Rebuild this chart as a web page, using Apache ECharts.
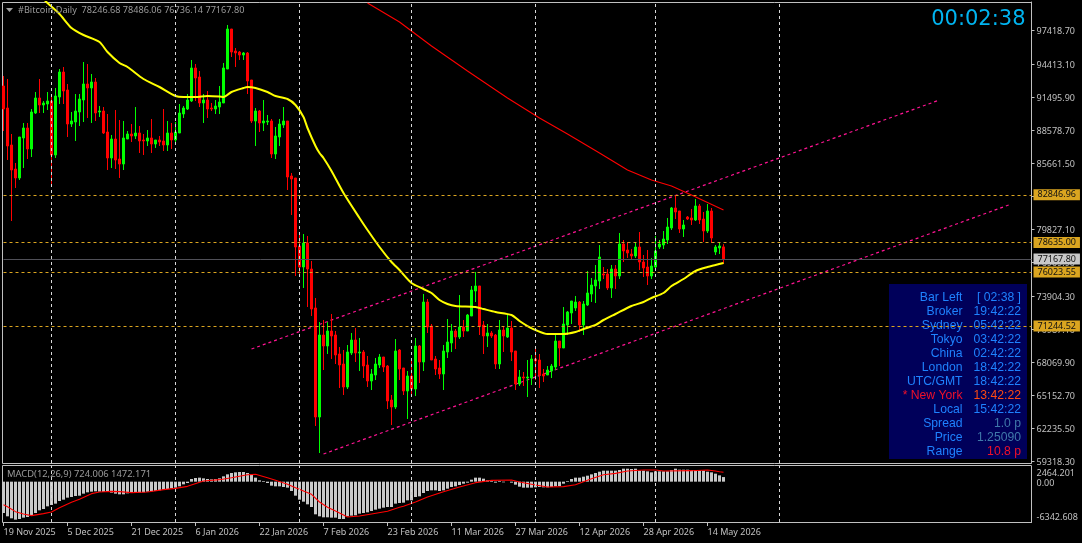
<!DOCTYPE html>
<html><head><meta charset="utf-8">
<style>html,body{margin:0;padding:0;background:#000;overflow:hidden}#c{width:1082px;height:543px}</style>
<script src="https://cdn.jsdelivr.net/npm/echarts@6/dist/echarts.min.js"></script>
</head><body><div id="c"></div>
<script>
const opens=[92469,90523,87253,85131,84336,87872,88756,86900,90082,91408,
90789,90877,91143,86369,91496,93706,92115,89109,89286,90170,
91231,92645,92292,92822,90170,90259,88402,86104,87783,86015,
85573,87783,88225,88049,88314,87695,87607,87872,87341,87695,
87607,87253,88314,87695,88314,89993,90435,91143,94060,93264,
90966,91231,90523,90435,90612,90966,93971,97507,95563,95474,
95209,95386,92999,89375,90259,89198,89286,89375,86457,87960,
89021,89375,84513,84336,78325,76468,78590,76291,72844,63208,
70457,69484,70810,70457,68777,67893,65860,68866,70015,68866,
68954,67805,66391,66921,67805,68512,67716,64711,64092,69131,
67540,65507,66833,65683,69484,68070,73374,71252,68336,67540,
67009,68954,69750,70810,70280,71164,70810,72137,74347,74789,
71341,70369,70634,70457,67893,70899,70280,71075,69043,66125,
66744,66656,66656,68336,68247,67009,66921,67274,67628,69926,
69308,71341,72402,72844,73374,71341,73109,74082,74789,75230,
75849,75849,74612,76291,75672,78501,77971,77617,77441,78236,
76910,76468,75672,76468,78236,78413,78855,79916,81684,81419,
79827,80888,80800,80623,81861,80711,79651,81419,77794,78147,78246.68];
const closes=[90435,87165,85043,84336,87960,88756,86900,90170,91408,90789,
90966,91143,86369,91585,93706,92026,89109,89375,90259,91319,
92645,92292,92822,90082,90259,88314,86104,87783,85927,85573,
87872,88225,88049,88314,87607,87607,87872,87341,87695,87518,
87253,88314,87695,88402,90082,90523,91231,94060,93176,90966,
91231,90435,90435,90701,91054,94060,97507,95474,95386,95209,
95386,92911,89375,90259,89198,89375,89375,86457,88049,89109,
89375,84424,84247,78236,76468,78590,76291,72755,63208,70457,
69484,70810,70369,68689,67805,65860,68954,70015,68866,68954,
67716,66391,67009,67893,68512,67628,64623,64092,69043,67451,
65507,66833,65683,69484,68070,73374,71164,68247,67451,67009,
69043,69838,70810,70280,71164,70810,72225,74435,74789,71252,
70369,70634,70369,67893,70899,70369,71075,68954,66125,66744,
66656,66744,68336,68159,66921,66833,67363,67716,69926,69308,
71429,72490,73462,73374,71341,73197,74170,74877,75319,77352,
75761,74612,76291,75672,78501,77883,77706,77441,78236,76910,
76380,75672,76557,77883,78501,78943,80004,81684,81330,79827,
80181,80711,80623,81861,80623,79651,81419,79032,78236,78325,77167.80];
const highs=[93353,93087,88225,85662,87960,89198,89198,90435,91938,93087,
91143,91938,91585,92292,93971,94148,92645,90170,91761,91761,
94590,94413,93530,93176,90701,90612,89993,88137,90347,89463,
89375,88491,89109,90612,88933,88225,88579,89552,87695,88049,
90435,89375,89198,89286,90877,90701,91761,94767,94413,93795,
91761,92026,90966,91231,92469,94502,97861,97507,95828,95563,
95474,95474,92999,90523,90347,91231,89905,89552,88844,89552,
90612,89375,84778,84336,79474,79385,79209,76999,73728,71606,
71783,71606,72314,70810,69396,69131,69573,70634,71075,70192,
69131,68601,67451,68424,68777,68512,67805,65153,70103,69219,
67540,67274,68247,70192,69573,74082,73639,71429,68601,68247,
69573,71871,71429,70987,73993,71783,72314,74789,76026,74789,
71695,71429,70810,70546,71783,71164,72225,71695,69043,67363,
67186,68247,68689,69396,68777,67451,67716,67893,70457,69926,
72932,72579,73462,73905,73462,73462,76115,75496,76645,78413,
76468,76291,76645,76645,79474,78855,78678,78059,78678,79562,
77529,77971,77264,79209,78855,79651,80800,81772,82833,81419,
80623,80976,81596,82480,82038,81330,82038,81684,78413,78678,78486.06];
const lows=[88491,85927,80535,83452,84159,85220,86015,86192,89993,90082,
90082,90347,83717,86104,90877,90877,87960,88844,87607,88933,
89286,89640,89198,89375,89728,88225,85043,85220,85131,84336,
85043,87783,87518,87783,86546,86369,87165,86546,86988,87165,
86723,86723,86900,87341,88314,89640,90347,91054,91143,90612,
89198,89640,90259,89993,89993,90966,93971,95032,94148,94767,
94767,91761,89198,87165,88402,88491,89021,86104,86015,87165,
88756,83275,81065,75672,75672,74612,72932,72137,62413,60026,
67363,68777,68336,67893,65771,65153,65683,68689,68070,67275,
66656,65860,65595,66479,67540,67186,63915,62501,63915,66479,
65153,63031,65153,65065,66214,67274,70634,68247,66921,66568,
65595,68424,68954,69219,70103,70280,70810,72137,73374,70457,
68777,69396,70192,67451,67451,68954,70192,68159,65595,65948,
65948,64976,66037,66479,65771,66302,66921,66656,67363,67716,
69308,70457,71429,72579,70722,70457,73021,73374,73286,74523,
75407,74435,73728,74523,75407,76910,77264,77175,77264,76203,
75584,74877,75407,76203,78059,78059,78501,79739,80711,79474,
79120,80623,80181,80535,80269,78678,79474,78590,77529,77617,76736.14];
const maIdx=[10,11,14,17,20,24,26,29,31,35,39,43,45,48,51,54,55,57,60,61,63,66,68,71,73,75,76,78,79,80,82,85,89,91,94,97,99,102,105,107,109,111,113,118,120,123,127,129,131,133,136,140,143,145,148,150,153,157,160,162,165,167,170,173,176,178,180];
const maVals=[100159,99806,98833,97596,96977,96358,95474,94502,94148,93087,92380,91585,91496,91496,91585,91540,91496,91938,92292,92380,92292,91938,91585,91319,90789,89728,88756,87165,86546,86104,84954,83010,80800,79739,78236,76910,76203,75054,74524,74170,73551,73197,73021,72932,72755,72490,72225,71695,71252,70899,70545,70545,70722,70988,71341,71783,72314,73021,73374,73728,74170,74789,75407,76115,76468,76645,76822];
const ma200Idx=[91,99,107,116,126,134,141,149,156,162,167,172,180];
const ma200Vals=[99806,98126,96005,93795,91408,89640,88225,86546,85043,84159,83629,82833,81507];
const channelUpperIdx=[62,234];
const channelUpperVals=[69219,91231];
const channelLowerIdx=[80,252];
const channelLowerVals=[59937,82038];
const macdHist=[-4926,-5450,-5764,-5974,-5869,-5659,-5554,-5345,-4926,-4506,
-4297,-3878,-3668,-3458,-3039,-2830,-2515,-2410,-2253,-2201,
-1886,-1677,-1572,-1520,-1572,-1624,-1572,-1729,-1886,-1991,
-1991,-1834,-1729,-1782,-1729,-1677,-1572,-1520,-1467,-1362,
-1258,-1153,-1048,-943,-734,-419,-210,419,576,629,
524,419,367,419,524,838,1153,1362,1467,1520,
1520,1362,1153,629,210,105,-210,-629,-734,-734,
-838,-943,-1467,-2201,-2830,-3144,-3563,-3982,-5135,-5450,
-5607,-5607,-5659,-5659,-5869,-5869,-5450,-5345,-5292,-5030,
-4926,-4821,-4611,-4402,-4244,-4087,-3982,-3982,-3458,-3354,
-3301,-2934,-2934,-2410,-2306,-1782,-1467,-1362,-1362,-1467,
-1362,-1100,-838,-734,-524,-314,-157,314,629,629,
472,210,105,-157,105,-105,0,-157,-472,-786,
-943,-943,-943,-891,-838,-891,-891,-838,-734,-681,
-314,105,419,629,629,786,943,1153,1362,1572,
1729,1729,1729,1729,1834,2044,2044,1991,2044,1729,
1729,1624,1467,1624,1624,1624,1624,1834,2044,1886,
1886,1886,1834,1834,1729,1729,1572,1467,1258,996,724.006];
const signalIdx=[0,1,3,5,7,10,12,14,17,19,22,24,27,29,32,36,40,43,46,50,54,57,61,63,66,68,71,73,77,79,81,83,86,89,92,96,99,100,103,106,110,114,118,122,127,129,133,136,140,143,147,150,153,156,160,163,165,172,176,178,179,180];
const signalVals=[-3616,-3930,-4716,-5083,-5345,-5030,-4768,-4087,-3249,-2777,-1886,-1624,-1520,-1572,-1729,-1624,-1258,-1048,-734,105,314,629,1100,1153,629,210,-419,-943,-1991,-3196,-4035,-4611,-5554,-5397,-5083,-4664,-4035,-3878,-3196,-2410,-1572,-838,-157,210,262,-52,-524,-838,-786,-472,472,1100,1310,1677,1834,1834,1677,1729,1834,1677,1572,1472.171];
const priceTicks=[97418.70,94413.10,91495.90,88578.70,85661.50,82744.30,79827.10,76909.90,73904.30,70987.10,68069.90,65152.70,62235.50,59318.30];
const goldLevels=[82846.96,78635.00,76023.55,71244.52];
const lastPrice=77167.80;
const macdTicks=[-6342.608,0,2464.201];
const tickDates=['19 Nov 2025','5 Dec 2025','21 Dec 2025','6 Jan 2026','22 Jan 2026','7 Feb 2026','23 Feb 2026','11 Mar 2026','27 Mar 2026','12 Apr 2026','28 Apr 2026','14 May 2026'];
const monthDates=['1 Dec 2025','1 Jan 2026','1 Feb 2026','1 Mar 2026','1 Apr 2026','1 May 2026','1 Jun 2026'];
const infoLabels=['Bar Left','Broker','Sydney','Tokyo','China','London','UTC/GMT','* New York','Local','Spread','Price','Range'];
const infoValues=['[ 02:38 ]','19:42:22','05:42:22','03:42:22','02:42:22','18:42:22','18:42:22','13:42:22','15:42:22','1.0 p','1.25090','10.8 p'];

const MONTHS=['Jan','Feb','Mar','Apr','May','Jun','Jul','Aug','Sep','Oct','Nov','Dec'];
const categories=[];
for(let i=0;i<258;i++){const d=new Date(Date.UTC(2025,10,19+i));categories.push(d.getUTCDate()+' '+MONTHS[d.getUTCMonth()]+' '+d.getUTCFullYear());}
const candleData=opens.map((o,i)=>[o,closes[i],lows[i],highs[i]]);
const pairs=(a,b)=>a.map((v,i)=>[v,b[i]]);
const FONT='"Noto Sans"';
const GREY='#c0c0c0';
const isTick=(i)=>tickDates.includes(categories[i]);
const vLines=monthDates.map(d=>({xAxis:d}));
const vLineStyle={color:'#d8d8d8',type:[3,3],width:1};

const infoColors=i=>i===7?'#f0102a':'#1e82ff';
const valueColors=i=>i===7?'#ff4a12':i===9||i===10?'#3f78aa':i===11?'#f0102a':'#1e82ff';
const graphic=[
 {type:'rect',silent:true,z:0,shape:{x:889,y:284,width:138,height:175},style:{fill:'#00005a'}},
 {type:'rect',silent:true,z:1,shape:{x:2.5,y:2.5,width:1029,height:461},style:{fill:null,stroke:GREY,lineWidth:1}},
 {type:'rect',silent:true,z:1,shape:{x:2.5,y:465.5,width:1029,height:57},style:{fill:null,stroke:GREY,lineWidth:1}},
 {type:'polygon',silent:true,z:5,shape:{points:[[6,8],[13,8],[9.5,12]]},style:{fill:'#a0a0a0'}},
 {type:'text',silent:true,z:5,x:18,y:10,style:{text:'#Bitcoin,Daily  78246.68 78486.06 76736.14 77167.80',fill:'#9a9a9a',font:'9.12px '+FONT,textVerticalAlign:'middle'}},
 {type:'text',silent:true,z:5,x:1025.5,y:20,style:{text:'00:02:38',fill:'#00b4f0',font:'21px "DejaVu Sans"',textAlign:'right',textVerticalAlign:'middle'}},
 {type:'text',silent:true,z:5,x:7,y:474,style:{text:'MACD(12,26,9) 724.006 1472.171',fill:'#9a9a9a',font:'9.4px '+FONT,textVerticalAlign:'middle'}},
];
infoLabels.forEach((t,i)=>{
 const y=297.5+14*i;
 graphic.push({type:'text',silent:true,z:1,x:962.5,y,style:{text:t,fill:infoColors(i),font:'12.2px "Liberation Sans"',textAlign:'right',textVerticalAlign:'middle'}});
 graphic.push({type:'text',silent:true,z:1,x:1021,y,style:{text:infoValues[i],fill:valueColors(i),font:'12.2px "Liberation Sans"',textAlign:'right',textVerticalAlign:'middle'}});
});

const option={
 backgroundColor:'#000',animation:false,graphic,
 grid:[{left:3.5,top:2,width:1028,height:461},{left:3.5,top:466,width:1028,height:56}],
 xAxis:[
  {type:'category',gridIndex:0,data:categories,boundaryGap:false,show:false},
  {type:'category',gridIndex:1,data:categories,boundaryGap:false,
   axisLine:{show:true,onZero:false,lineStyle:{color:GREY}},
   axisTick:{show:true,interval:(i)=>isTick(i),length:4,lineStyle:{color:GREY,width:1}},
   axisLabel:{show:true,interval:(i)=>isTick(i),align:'left',color:GREY,fontFamily:FONT,fontSize:9,margin:6,hideOverlap:false},
   splitLine:{show:false}}
 ],
 yAxis:[
  {type:'value',gridIndex:0,position:'right',min:59142,max:99894,
   axisLine:{show:true,lineStyle:{color:GREY}},splitLine:{show:false},
   axisTick:{show:true,customValues:priceTicks,length:3,lineStyle:{color:GREY,width:1}},
   axisLabel:{show:true,customValues:priceTicks,color:GREY,fontFamily:FONT,fontSize:9,margin:5,showMinLabel:true,showMaxLabel:true,
    formatter:v=>'{a|'+v.toFixed(2)+'}',rich:{a:{color:GREY,fontFamily:FONT,fontSize:9,padding:[2,0,0,0]}}}},
  {type:'value',gridIndex:1,position:'right',min:-6342.608,max:2464.201,
   axisLine:{show:false},splitLine:{show:false},axisTick:{show:false},
   axisLabel:{show:true,customValues:macdTicks,color:GREY,fontFamily:FONT,fontSize:9,margin:5,showMinLabel:true,showMaxLabel:true,verticalAlignMaxLabel:'top',verticalAlignMinLabel:'bottom',
    formatter:v=>'{a|'+(v===0?'0.00':v.toFixed(3))+'}',rich:{a:{color:GREY,fontFamily:FONT,fontSize:9,padding:[3,0,0,0]}}}}
 ],
 series:[
  {type:'line',name:'levels',xAxisIndex:0,yAxisIndex:0,data:[],z:1,silent:true,
   markLine:{silent:true,symbol:'none',animation:false,
    data:[
     ...vLines.map(v=>({...v,lineStyle:vLineStyle,label:{show:false}})),
     {yAxis:lastPrice,lineStyle:{color:'#505058',type:'solid',width:1},
      label:{show:true,position:'end',distance:2,formatter:()=>lastPrice.toFixed(2),backgroundColor:'#c8c8c8',color:'#111',fontFamily:FONT,fontSize:9,padding:[1,4,1,4]}},
     ...goldLevels.map(v=>({yAxis:v,lineStyle:{color:'#daa520',type:[3,3],width:1},
      label:{show:true,position:'end',distance:2,formatter:()=>v.toFixed(2),backgroundColor:'#daa520',color:'#111',fontFamily:FONT,fontSize:9,padding:[1,4,1,4]}}))
    ]}},
  {type:'line',name:'levelsMacd',xAxisIndex:1,yAxisIndex:1,data:[],z:1,silent:true,
   markLine:{silent:true,symbol:'none',animation:false,data:vLines.map(v=>({...v,lineStyle:vLineStyle,label:{show:false}}))}},
  {type:'candlestick',name:'#Bitcoin',xAxisIndex:0,yAxisIndex:0,data:candleData,barWidth:2,clip:false,z:3,silent:true,
   itemStyle:{color:'#00ff00',color0:'#ff0000',borderColor:'#00ff00',borderColor0:'#ff0000',borderWidth:1}},
  {type:'line',name:'MA',xAxisIndex:0,yAxisIndex:0,data:pairs(maIdx,maVals),showSymbol:false,smooth:0.25,clip:true,z:4,silent:true,lineStyle:{color:'#ffff00',width:2}},
  {type:'line',name:'MA200',xAxisIndex:0,yAxisIndex:0,data:pairs(ma200Idx,ma200Vals),showSymbol:false,z:4,silent:true,lineStyle:{color:'#ff0000',width:1.1}},
  {type:'line',name:'ChannelUpper',xAxisIndex:0,yAxisIndex:0,data:pairs(channelUpperIdx,channelUpperVals),showSymbol:false,z:2,silent:true,lineStyle:{color:'#ff1493',width:1.2,type:[3,3]}},
  {type:'line',name:'ChannelLower',xAxisIndex:0,yAxisIndex:0,data:pairs(channelLowerIdx,channelLowerVals),showSymbol:false,z:2,silent:true,lineStyle:{color:'#ff1493',width:1.2,type:[3,3]}},
  {type:'bar',name:'MACD',xAxisIndex:1,yAxisIndex:1,data:macdHist,barWidth:3,clip:false,z:2,silent:true,itemStyle:{color:'#c8c8c8'}},
  {type:'line',name:'Signal',xAxisIndex:1,yAxisIndex:1,data:pairs(signalIdx,signalVals),showSymbol:false,z:3,silent:true,lineStyle:{color:'#ff0000',width:1.1}}
 ]
};
const chart=echarts.init(document.getElementById('c'),null,{renderer:'canvas',width:1082,height:543});
chart.setOption(option);
</script></body></html>
